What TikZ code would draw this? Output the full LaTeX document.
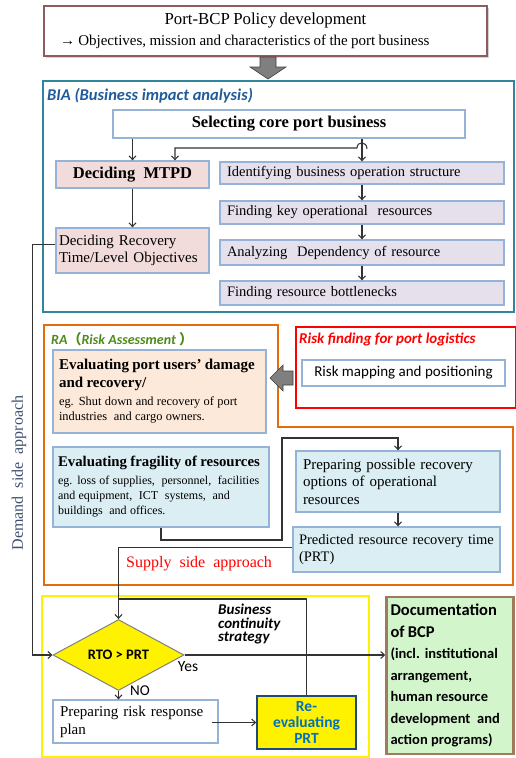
\documentclass[tikz,border=0pt]{standalone}
\usepackage{fontspec}
\setmainfont{Liberation Serif}
\newfontfamily\calib{Carlito}
\newfontfamily\cjk{Noto Sans CJK SC}
\usetikzlibrary{shapes.geometric,arrows.meta,shadows}
\newcommand\setfs[2]{\fontsize{#1}{#2}\selectfont}
\definecolor{boxblue}{HTML}{95B3D7}
\definecolor{biateal}{HTML}{31859C}
\definecolor{raorange}{HTML}{E46C0A}
\definecolor{pinkfill}{HTML}{F2DCDB}
\definecolor{lavfill}{HTML}{E5E0EC}
\definecolor{peachfill}{HTML}{FDE9D9}
\definecolor{ltblue}{HTML}{DBEEF4}
\definecolor{docgreen}{HTML}{D3F5CC}
\definecolor{docborder}{HTML}{A07A5A}
\definecolor{topborder}{HTML}{8E5C5C}
\definecolor{ragreen}{HTML}{4E8A1A}
\definecolor{biablue}{HTML}{1F5C99}
\definecolor{reevblue}{HTML}{0070C0}
\definecolor{reevborder}{HTML}{1F497D}
\definecolor{demandblue}{HTML}{3F4F73}
\definecolor{arrowgray}{HTML}{7F7F7F}
\begin{document}
\begin{tikzpicture}[x=1pt,y=-1pt,
  lbox/.style={draw=boxblue, line width=1.3pt, inner xsep=6pt, inner ysep=2pt},
  arr/.style={draw=black!80, line width=1.05pt, -{Straight Barb[length=3.8pt,width=7pt]}},
  conn/.style={draw=black!80, line width=1.05pt},
  blockarrow/.style={fill=arrowgray, draw=black!75, line width=0.6pt},
  body/.style={font=\setfs{14.5}{17}}]
\useasboundingbox (0,0) rectangle (516,758);

% top policy box
\node[draw=topborder, line width=1.6pt, fill=white,
  drop shadow={shadow xshift=2pt, shadow yshift=-2pt, fill=black!35},
  minimum width=443pt, minimum height=50pt, text width=431pt, inner xsep=6pt, align=left] (policy) at (265.5,31)
  {{\setfs{16.8}{20}\centering Port-BCP Policy development\par}%
   {\setfs{15}{21}\hspace*{10pt}→ Objectives, mission and characteristics of the port business\par}};

% big down arrow
\draw[blockarrow] (260,57) -- (276,57) -- (276,67) -- (286,67) -- (268,79) -- (250,67) -- (260,67) -- cycle;

% BIA frame
\draw[biateal, line width=1.5pt] (43,81) rectangle (514,312);
\node[anchor=west, text=biablue, font={\calib\bfseries\itshape\setfs{16.5}{18}}, inner sep=0pt] (bialbl) at (47,96) {BIA (Business impact analysis)};

\node[lbox, fill=white, minimum width=352pt, minimum height=28pt, font={\bfseries\setfs{16.5}{19}}] (select) at (289,124) {Selecting core port business};
\node[lbox, fill=pinkfill, minimum width=153pt, minimum height=27pt, font={\bfseries\setfs{16.5}{19}}] (mtpd) at (132.5,174.5) {Deciding~~MTPD};
\node[lbox, fill=pinkfill, minimum width=153pt, minimum height=45pt, inner xsep=3pt, text width=147pt, align=left, font={\setfs{15}{17}}] (recov) at (132.5,250.5) {Deciding Recovery\\Time/Level Objectives};
\node[lbox, fill=lavfill, minimum width=284pt, minimum height=22pt, text width=270pt, inner xsep=7pt, align=left, body] (ident) at (362,173) {Identifying business operation structure};
\node[lbox, fill=lavfill, minimum width=284pt, minimum height=23pt, text width=270pt, inner xsep=7pt, align=left, body] (keyres) at (362,212.5) {Finding key operational~ resources};
\node[lbox, fill=lavfill, minimum width=284pt, minimum height=25pt, text width=270pt, inner xsep=7pt, align=left, body] (analyz) at (362,252.5) {Analyzing~ Dependency of resource};
\node[lbox, fill=lavfill, minimum width=284pt, minimum height=24pt, text width=270pt, inner xsep=7pt, align=left, body] (bottl) at (362,293) {Finding resource bottlenecks};

\draw[arr] (mtpd.north |- select.south) -- (mtpd.north);
\draw[arr] (ident.north |- select.south) -- (ident.north);
\coordinate (hop) at (367,149);
\coordinate (bend) at (175,148);
\draw[arr] (hop) .. controls (367,141) and (357,141) .. (357,148) -- (bend) -- (bend |- mtpd.north);
\draw[arr] (mtpd.south) -- (recov.north);
\draw[arr] (ident.south) -- (keyres.north);
\draw[arr] (keyres.south) -- (analyz.north);
\draw[arr] (analyz.south) -- (bottl.north);

% RA frame
\draw[raorange, line width=1.5pt] (44,325) -- (278,325) -- (278,427) -- (513,427) -- (513,585) -- (44,585) -- cycle;
\node[anchor=west, text=ragreen, font={\calib\bfseries\itshape\setfs{14}{16}}, inner sep=0pt] (ralbl) at (51,339) {RA{\cjk （}Risk Assessment {\cjk ）}};

% risk finding
\draw[red, line width=1.3pt] (296,327) rectangle (515.3,408);
\node[anchor=west, text=red, font={\calib\bfseries\itshape\setfs{15}{17}}, inner sep=0pt] (rflbl) at (299,339) {Risk finding for port logistics};
\node[lbox, fill=white, minimum width=203pt, minimum height=26pt, font={\calib\setfs{15}{17}}] (riskmap) at (403.5,373) {Risk mapping and positioning};

% gray left arrow
\draw[blockarrow] (293,371) -- (283,371) -- (283,365) -- (270,378) -- (283,391) -- (283,385) -- (293,385) -- cycle;

\node[lbox, fill=peachfill, minimum width=213pt, minimum height=83pt, text width=201pt, align=left] (users) at (159.5,391.5)
  {{\bfseries\setfs{15}{18}Evaluating port users’ damage\\and recovery/\par}\vspace{3pt}%
   {\setfs{12.4}{15}eg. Shut down and recovery of port\\industries~ and cargo owners.\par}};
\node[lbox, fill=ltblue, minimum width=216pt, minimum height=80pt, text width=206pt, inner xsep=5pt, align=left] (frag) at (161,487)
  {{\bfseries\setfs{14.8}{18}\mbox{Evaluating fragility of resources}\par}\vspace{3pt}%
   {\setfs{12}{15}eg. loss of supplies,~ personnel,~ facilities\\and equipment,~ ICT~ systems,~ and\\buildings~ and offices.\par}};
\node[lbox, fill=ltblue, minimum width=204pt, minimum height=61pt, text width=190pt, inner xsep=7pt, align=left, font={\setfs{15}{17.5}}] (prep) at (398,481.5) {Preparing possible recovery\\options of operational\\resources};
\node[lbox, fill=ltblue, minimum width=207pt, minimum height=45pt, text width=195pt, align=left, font={\setfs{14.5}{17}}] (prt) at (396.5,549.5) {Predicted resource recovery time\\(PRT)};

\coordinate (f1) at (282,540);
\coordinate (f2) at (282,438);
\draw[arr] (frag.south) |- (f1) -- (f2) -| (prep.north);
\draw[arr] (prep.south) -- (prep.south |- prt.north);

\node[anchor=west, text=red, font={\setfs{16}{18}}, inner sep=0pt] (supply) at (126,564) {Supply~~side~~approach};
\node[rotate=90, text=demandblue, font={\setfs{16}{18}}] (demand) at (19,473) {Demand~~side~~approach};

% bottom part
\draw[yellow, line width=2pt] (42,596) rectangle (369,756.5);
\node[draw=docborder, line width=2.5pt, fill=docgreen, minimum width=127pt, minimum height=157pt, text width=119pt, inner xsep=4pt, align=left] (doc) at (450,675.5)
  {{\calib\bfseries\setfs{16.5}{21.5}Documentation\\of BCP\par}%
   {\calib\bfseries\setfs{14.5}{21.5}(incl. institutional\\arrangement,\\human resource\\development~ and\\action programs)\par}};

\node[diamond, draw=gray, line width=1pt, fill=yellow, minimum width=131pt, minimum height=66pt, inner sep=0pt, font={\calib\bfseries\setfs{14.5}{16}}] (rto) at (118.5,655) {RTO > PRT};
\node[anchor=north west, align=left, inner sep=0pt, font={\calib\bfseries\itshape\setfs{15}{13.5}}] (bcs) at (218,604) {Business\\continuity\\strategy};
\node[font={\calib\setfs{15.5}{17}}, inner sep=0pt] (yes) at (188,667) {Yes};
\node[font={\calib\setfs{15}{17}}, inner sep=0pt] (no) at (140,691) {NO};

\node[lbox, fill=white, minimum width=165pt, minimum height=43pt, text width=151pt, inner xsep=7pt, align=left, font={\setfs{15}{18}}] (rrp) at (135.5,721.5) {Preparing risk response\\plan};
\node[draw=reevborder, line width=1.6pt, fill=yellow, minimum width=99pt, minimum height=53pt, align=center, text=reevblue, font={\calib\bfseries\setfs{15.5}{16}}] (reeval) at (306.5,722.5) {Re-\\evaluating\\PRT};

\draw[arr] ([yshift=6pt]recov.west) -- ++(-23,0) |- (rto.west);
\draw[arr] ([yshift=2pt]prt.west) -| (rto.north);
\coordinate (join) at (118.5,599);
\draw[conn] (reeval.north) |- (join);
\draw[arr] (rto.east) -- (rto.east -| doc.west);
\draw[arr] (rto.south) -- (rto.south |- rrp.north);
\coordinate (rrpout) at ([xshift=-7pt]rrp.east);
\draw[arr] (rrpout |- reeval.west) -- (reeval.west);
\end{tikzpicture}
\end{document}
